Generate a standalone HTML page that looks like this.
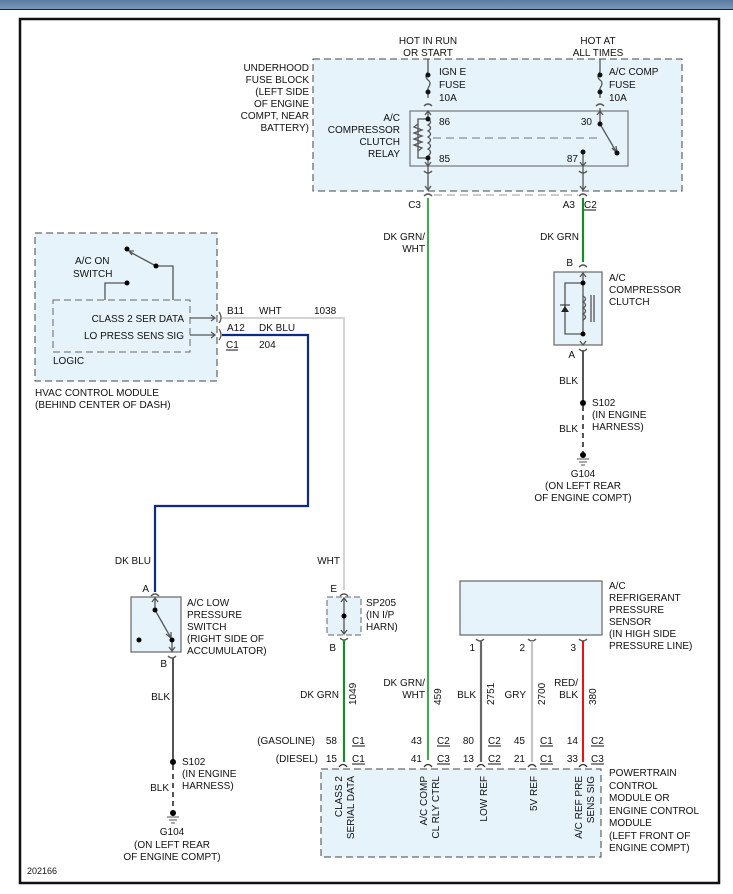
<!DOCTYPE html>
<html><head><meta charset="utf-8"><style>
body{margin:0;background:#fff}
svg{display:block;font-family:"Liberation Sans",sans-serif;font-size:10px}
text{fill:#111}
.r{text-anchor:end}.m{text-anchor:middle}
</style></head><body>
<svg width="733" height="894" viewBox="0 0 733 894" xmlns="http://www.w3.org/2000/svg">
<defs><linearGradient id="g" x1="0" y1="0" x2="0" y2="1"><stop offset="0" stop-color="#5b7ba3"/><stop offset="1" stop-color="#7c97b8"/></linearGradient></defs>
<rect x="0" y="0" width="733" height="9" fill="url(#g)"/>
<line x1="0" y1="9.5" x2="733" y2="9.5" stroke="#222" stroke-width="1"/>
<rect x="20" y="19" width="699" height="864" fill="#fff" stroke="#111" stroke-width="2.5"/>

<!-- fuse block -->
<rect x="313" y="59" width="369" height="132" fill="#e6f3fb" stroke="#444" stroke-dasharray="7,4"/>
<rect x="410" y="111" width="218" height="55" fill="#e6f3fb" stroke="#777" stroke-width="1.2"/>
<text x="428" y="44" class="m">HOT IN RUN</text><text x="428" y="56" class="m">OR START</text>
<text x="598" y="44" class="m">HOT AT</text><text x="598" y="56" class="m">ALL TIMES</text>
<text x="309" y="71" class="r">UNDERHOOD</text><text x="309" y="83" class="r">FUSE BLOCK</text><text x="309" y="95" class="r">(LEFT SIDE</text><text x="309" y="107" class="r">OF ENGINE</text><text x="309" y="119" class="r">COMPT, NEAR</text><text x="309" y="131" class="r">BATTERY)</text>
<text x="439" y="75">IGN E</text><text x="439" y="88">FUSE</text><text x="439" y="101">10A</text>
<text x="609" y="75">A/C COMP</text><text x="609" y="88">FUSE</text><text x="609" y="101">10A</text>
<text x="400" y="121" class="r">A/C</text><text x="400" y="133" class="r">COMPRESSOR</text><text x="400" y="145" class="r">CLUTCH</text><text x="400" y="157" class="r">RELAY</text>
<text x="439" y="125">86</text><text x="439" y="162">85</text><text x="592" y="125" class="r">30</text><text x="578" y="162" class="r">87</text>
<g stroke="#555" stroke-width="1.3" fill="none">
<line x1="428" y1="59" x2="428" y2="72"/><path d="M428 72 q-4 5 0 8 q4 3 0 8"/><line x1="428" y1="88" x2="428" y2="98"/>
<path d="M424 106 q4 -4 8 0" /><line x1="428" y1="111" x2="428" y2="119"/>
<line x1="600" y1="59" x2="600" y2="72"/><path d="M600 72 q-4 5 0 8 q4 3 0 8"/><line x1="600" y1="88" x2="600" y2="98"/>
<path d="M596 106 q4 -4 8 0"/><line x1="600" y1="108" x2="600" y2="124"/>
<path d="M425 115 l3 -4 l3 4 M597 115 l3 -4 l3 4"/>
<path d="M428 119 h-10 v39 h10"/><path d="M418 124 l-4 3 l8 3 l-8 3 l8 3 l-8 3 l8 3 l-8 3 l8 3 l-4 3"/>
<path d="M428 119 q5 3 0 6 q5 3 0 6 q5 3 0 6 q5 3 0 6 q5 3 0 6 q5 3 0 7"/>
<line x1="428" y1="158" x2="428" y2="190"/><path d="M425 162 l3 4 l3 -4 M425 186 l3 4 l3 -4"/><path d="M424 171 q4 4 8 0"/>
<line x1="600" y1="124" x2="617" y2="153"/><path d="M612 148 l5 5 l-1 -7"/>
<line x1="583" y1="152" x2="583" y2="190"/><path d="M580 162 l3 4 l3 -4 M580 186 l3 4 l3 -4"/><path d="M579 171 q4 4 8 0"/>
<path d="M424 196 q4 -4 8 0 M579 196 q4 -4 8 0"/>
</g>
<line x1="433" y1="138" x2="600" y2="138" stroke="#777" stroke-dasharray="8,5"/>
<line x1="434" y1="195" x2="578" y2="195" stroke="#999" stroke-dasharray="8,5"/>
<g fill="#111"><circle cx="428" cy="75" r="2.5"/><circle cx="428" cy="92" r="2.5"/><circle cx="600" cy="75" r="2.5"/><circle cx="600" cy="92" r="2.5"/>
<circle cx="428" cy="119" r="2.5"/><circle cx="428" cy="158" r="2.5"/><circle cx="600" cy="124" r="2.5"/><circle cx="617" cy="153" r="2.5"/><circle cx="583" cy="152" r="2.5"/></g>
<text x="421" y="208" class="r">C3</text><text x="575" y="208" class="r">A3</text><text x="584" y="208">C2</text><line x1="584" y1="210" x2="596" y2="210" stroke="#111"/>
<line x1="428" y1="198" x2="428" y2="760" stroke="#3fae48" stroke-width="2"/>
<line x1="583" y1="198" x2="583" y2="262" stroke="#1c8a2a" stroke-width="2.2"/>
<text x="425" y="240" class="r">DK GRN/</text><text x="425" y="252" class="r">WHT</text><text x="579" y="240" class="r">DK GRN</text>

<!-- compressor clutch -->
<path d="M579 267 q4 -4 8 0" stroke="#555" fill="none" stroke-width="1.3"/>
<text x="573" y="266" class="r">B</text>
<rect x="554" y="272" width="48" height="73" fill="#e6f3fb" stroke="#666" stroke-width="1.2"/>
<g stroke="#555" stroke-width="1.3" fill="none">
<path d="M580 277 l3 -4 l3 4"/><line x1="583" y1="273" x2="583" y2="334"/>
<path d="M583 283 h-18 v51 h18"/>
<path d="M583 296 q5 3 0 6 q5 3 0 6 q5 3 0 6 q5 3 0 6"/><line x1="591" y1="295" x2="591" y2="322"/><line x1="594" y1="295" x2="594" y2="322"/>
<path d="M580 341 l3 4 l3 -4"/><path d="M579 349 q4 4 8 0"/>
</g>
<path d="M561 312 h8 l-4 -6 z" fill="#222"/><line x1="560" y1="305" x2="570" y2="305" stroke="#222"/>
<circle cx="583" cy="283" r="2.5"/><circle cx="583" cy="334" r="2.5"/>
<text x="609" y="281">A/C</text><text x="609" y="293">COMPRESSOR</text><text x="609" y="305">CLUTCH</text>
<text x="575" y="358" class="r">A</text>
<line x1="583" y1="350" x2="583" y2="403" stroke="#555" stroke-width="2"/>
<text x="578" y="384" class="r">BLK</text>
<circle cx="583" cy="403" r="3"/><text x="592" y="406">S102</text><text x="592" y="418">(IN ENGINE</text><text x="592" y="430">HARNESS)</text>
<line x1="583" y1="406" x2="583" y2="452" stroke="#555" stroke-width="2" stroke-dasharray="5,4"/><text x="578" y="432" class="r">BLK</text>
<circle cx="583" cy="455" r="3"/><g stroke="#555"><line x1="577" y1="459" x2="589" y2="459"/><line x1="579" y1="462" x2="587" y2="462"/><line x1="581" y1="465" x2="585" y2="465"/></g>
<text x="583" y="477" class="m">G104</text><text x="583" y="489" class="m">(ON LEFT REAR</text><text x="583" y="501" class="m">OF ENGINE COMPT)</text>

<!-- HVAC module -->
<rect x="35" y="233" width="182" height="148" fill="#e6f3fb" stroke="#444" stroke-dasharray="7,4"/>
<rect x="53" y="300" width="137" height="52" fill="#e6f3fb" stroke="#666" stroke-dasharray="7,4"/>
<text x="75" y="264">A/C ON</text><text x="73" y="277">SWITCH</text>
<g stroke="#555" stroke-width="1.3" fill="none">
<line x1="156" y1="266" x2="130" y2="252"/><path d="M134 251 l-5 0 l3 4"/>
<path d="M156 266 h17 v34"/><path d="M127 283 h-22 v17"/>
<path d="M190 318 h25 M211 315 l4 3 l-4 3 M190 335 h25 M211 332 l4 3 l-4 3"/>
<path d="M219 312 q4 6 0 11 M219 329 q4 6 0 11"/>
</g>
<circle cx="127" cy="249" r="2.5"/><circle cx="156" cy="266" r="2.5"/><circle cx="127" cy="283" r="2.5"/>
<text x="184" y="322" class="r">CLASS 2 SER DATA</text><text x="184" y="339" class="r">LO PRESS SENS SIG</text>
<text x="53" y="364">LOGIC</text>
<text x="35" y="396">HVAC CONTROL MODULE</text><text x="35" y="408">(BEHIND CENTER OF DASH)</text>
<text x="227" y="314">B11</text><text x="259" y="314">WHT</text><text x="314" y="314">1038</text>
<text x="227" y="331">A12</text><text x="259" y="331">DK BLU</text>
<text x="226" y="348">C1</text><line x1="226" y1="350" x2="238" y2="350" stroke="#111"/><text x="259" y="348">204</text>
<polyline points="222,318 344,318 344,590" fill="none" stroke="#d4d4d4" stroke-width="2"/>
<polyline points="222,335 308,335 308,506 155,506 155,592" fill="none" stroke="#0c2a8c" stroke-width="2.2"/>
<text x="151" y="564" class="r">DK BLU</text><text x="340" y="564" class="r">WHT</text>

<!-- low pressure switch -->
<text x="149" y="592" class="r">A</text>
<rect x="131" y="597" width="50" height="55" fill="#e6f3fb" stroke="#666" stroke-width="1.2"/>
<g stroke="#555" stroke-width="1.3" fill="none">
<path d="M151 596 q4 -4 8 0"/><path d="M152 602 l3 -4 l3 4"/><line x1="155" y1="598" x2="155" y2="610"/>
<line x1="155" y1="610" x2="171" y2="638"/><path d="M166 634 l5 4 l0 -6"/>
<line x1="172" y1="640" x2="172" y2="652"/><path d="M169 647 l3 4 l3 -4"/><path d="M168 656 q4 4 8 0"/>
</g>
<circle cx="155" cy="610" r="2.5"/><circle cx="172" cy="640" r="2.5"/><circle cx="139" cy="640" r="2.5"/>
<text x="187" y="606">A/C LOW</text><text x="187" y="618">PRESSURE</text><text x="187" y="630">SWITCH</text><text x="187" y="642">(RIGHT SIDE OF</text><text x="187" y="654">ACCUMULATOR)</text>
<text x="167" y="667" class="r">B</text>
<line x1="173" y1="658" x2="173" y2="762" stroke="#555" stroke-width="2"/>
<text x="170" y="700" class="r">BLK</text>
<circle cx="173" cy="762" r="3"/><text x="182" y="765">S102</text><text x="182" y="777">(IN ENGINE</text><text x="182" y="789">HARNESS)</text>
<line x1="173" y1="765" x2="173" y2="810" stroke="#555" stroke-width="2" stroke-dasharray="5,4"/><text x="169" y="791" class="r">BLK</text>
<circle cx="173" cy="813" r="3"/><g stroke="#555"><line x1="167" y1="817" x2="179" y2="817"/><line x1="169" y1="820" x2="177" y2="820"/><line x1="171" y1="823" x2="175" y2="823"/></g>
<text x="172" y="835" class="m">G104</text><text x="172" y="848" class="m">(ON LEFT REAR</text><text x="172" y="860" class="m">OF ENGINE COMPT)</text>

<!-- SP205 -->
<text x="337" y="592" class="r">E</text>
<rect x="327" y="597" width="34" height="38" fill="#e6f3fb" stroke="#666" stroke-dasharray="6,3"/>
<g stroke="#555" stroke-width="1.3" fill="none">
<path d="M340 596 q4 -4 8 0"/><line x1="344" y1="598" x2="344" y2="634"/><path d="M341 602 l3 -4 l3 4 M341 630 l3 4 l3 -4"/><path d="M340 638 q4 4 8 0"/>
</g>
<circle cx="344" cy="616" r="2.5"/>
<text x="366" y="606">SP205</text><text x="366" y="618">(IN I/P</text><text x="366" y="630">HARN)</text>
<text x="336" y="651" class="r">B</text>
<line x1="344" y1="640" x2="344" y2="762" stroke="#1c8a2a" stroke-width="2.2"/>

<!-- refrigerant sensor -->
<rect x="460" y="581" width="142" height="54" fill="#e6f3fb" stroke="#666" stroke-width="1.2"/>
<text x="609" y="589">A/C</text><text x="609" y="601">REFRIGERANT</text><text x="609" y="613">PRESSURE</text><text x="609" y="625">SENSOR</text><text x="609" y="637">(IN HIGH SIDE</text><text x="609" y="649">PRESSURE LINE)</text>
<g stroke="#555" stroke-width="1.3" fill="none"><path d="M476 639 q4 4 8 0 M528 639 q4 4 8 0 M579 639 q4 4 8 0"/></g>
<text x="475" y="651" class="r">1</text><text x="525" y="651" class="r">2</text><text x="576" y="651" class="r">3</text>
<line x1="481" y1="641" x2="481" y2="762" stroke="#666" stroke-width="2.2"/>
<line x1="532" y1="641" x2="532" y2="762" stroke="#c4c4c4" stroke-width="2.2"/>
<line x1="583" y1="641" x2="583" y2="762" stroke="#ee1111" stroke-width="2"/>

<text x="339" y="698" class="r">DK GRN</text><text x="425" y="686" class="r">DK GRN/</text><text x="425" y="698" class="r">WHT</text>
<text x="476" y="698" class="r">BLK</text><text x="526" y="698" class="r">GRY</text><text x="578" y="686" class="r">RED/</text><text x="578" y="698" class="r">BLK</text>
<text transform="translate(356,705) rotate(-90)">1049</text><text transform="translate(441,705) rotate(-90)">459</text>
<text transform="translate(494,705) rotate(-90)">2751</text><text transform="translate(545,705) rotate(-90)">2700</text><text transform="translate(596,705) rotate(-90)">380</text>

<text x="315" y="744" class="r">(GASOLINE)</text><text x="318" y="762" class="r">(DIESEL)</text>
<g>
<text x="337" y="744" class="r">58</text><text x="337" y="762" class="r">15</text>
<text x="422" y="744" class="r">43</text><text x="422" y="762" class="r">41</text>
<text x="474" y="744" class="r">80</text><text x="474" y="762" class="r">13</text>
<text x="525" y="744" class="r">45</text><text x="525" y="762" class="r">21</text>
<text x="578" y="744" class="r">14</text><text x="578" y="762" class="r">33</text>
<text x="352" y="744">C1</text><text x="352" y="762">C1</text>
<text x="437" y="744">C2</text><text x="437" y="762">C3</text>
<text x="488" y="744">C2</text><text x="488" y="762">C2</text>
<text x="540" y="744">C1</text><text x="540" y="762">C1</text>
<text x="591" y="744">C2</text><text x="591" y="762">C3</text>
</g>
<g stroke="#111"><path d="M352 746h13M352 764h13M437 746h13M437 764h13M488 746h13M488 764h13M540 746h13M540 764h13M591 746h13M591 764h13"/></g>
<g stroke="#333" stroke-width="1.3" fill="none"><path d="M339 767 q4 -5 8 0 M424 767 q4 -5 8 0 M477 767 q4 -5 8 0 M528 767 q4 -5 8 0 M579 767 q4 -5 8 0"/></g>

<!-- PCM -->
<rect x="321" y="769" width="280" height="88" fill="#e6f3fb" stroke="#444" stroke-dasharray="7,4"/>
<g text-anchor="end">
<text transform="translate(342,776) rotate(-90)">CLASS 2</text><text transform="translate(354,776) rotate(-90)">SERIAL DATA</text>
<text transform="translate(427,776) rotate(-90)">A/C COMP</text><text transform="translate(439,776) rotate(-90)">CL RLY CTRL</text>
<text transform="translate(487,776) rotate(-90)">LOW REF</text><text transform="translate(537,776) rotate(-90)">5V REF</text>
<text transform="translate(582,776) rotate(-90)">A/C REF PRE</text><text transform="translate(594,776) rotate(-90)">SENS SIG</text>
</g>
<text x="609" y="776">POWERTRAIN</text><text x="609" y="789">CONTROL</text><text x="609" y="801">MODULE OR</text><text x="609" y="814">ENGINE CONTROL</text><text x="609" y="826">MODULE</text><text x="609" y="839">(LEFT FRONT OF</text><text x="609" y="851">ENGINE COMPT)</text>
<text x="27" y="874" style="font-size:9px">202166</text>
</svg>
</body></html>
